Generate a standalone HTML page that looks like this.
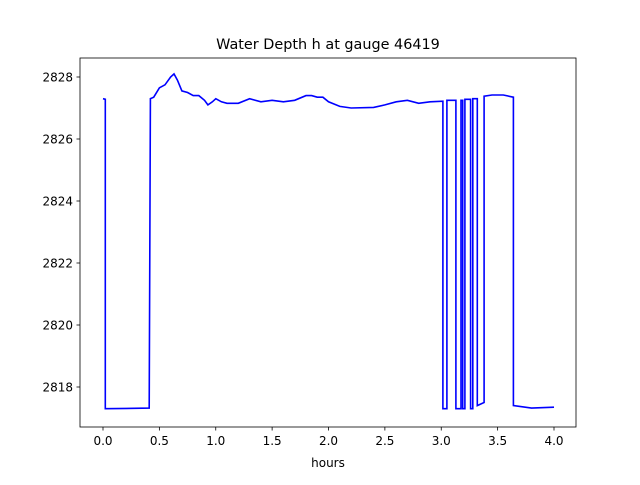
<!DOCTYPE html>
<html><head><meta charset="utf-8"><style>
body{margin:0;background:#fff;}
svg text{font-family:"DejaVu Sans","Liberation Sans",sans-serif;fill:#000;}
</style></head><body>
<svg id="chart" width="640" height="480">
<rect width="640" height="480" fill="#fff"/>
<text x="328" y="49" font-size="14.4" text-anchor="middle">Water Depth h at gauge 46419</text>
<g id="ticks"></g>
<path id="line" fill="none" stroke="#0000ff" stroke-width="1.6"/>
<rect x="80" y="58" width="496" height="369" fill="none" stroke="#000" stroke-width="0.8"/>
<text x="328" y="467" font-size="12" text-anchor="middle">hours</text>
</svg>
<script>
const hours=[0,0.02,0.02,0.41,0.42,0.45,0.5,0.55,0.6,0.63,0.66,0.7,0.75,0.8,0.85,0.9,0.93,0.97,1.0,1.05,1.1,1.2,1.3,1.4,1.5,1.6,1.7,1.8,1.85,1.9,1.95,2.0,2.1,2.2,2.4,2.5,2.6,2.7,2.8,2.9,3.015,3.015,3.05,3.05,3.13,3.13,3.175,3.175,3.19,3.19,3.21,3.21,3.26,3.26,3.28,3.28,3.32,3.32,3.38,3.38,3.45,3.55,3.64,3.64,3.8,4.0];
const depth=[2827.3,2827.28,2817.3,2817.32,2827.3,2827.35,2827.65,2827.75,2828.0,2828.1,2827.9,2827.55,2827.5,2827.4,2827.4,2827.25,2827.1,2827.2,2827.3,2827.2,2827.15,2827.15,2827.3,2827.2,2827.25,2827.2,2827.25,2827.4,2827.4,2827.35,2827.35,2827.2,2827.05,2827.0,2827.02,2827.1,2827.2,2827.25,2827.15,2827.2,2827.22,2817.3,2817.3,2827.25,2827.25,2817.3,2817.3,2827.25,2827.25,2817.3,2817.3,2827.28,2827.28,2817.3,2817.3,2827.3,2827.3,2817.4,2817.5,2827.38,2827.42,2827.42,2827.35,2817.4,2817.32,2817.35];
const xTicks=[0,0.5,1,1.5,2,2.5,3,3.5,4];
const yTicks=[2818,2820,2822,2824,2826,2828];
const xs=v=>103+(v-0)*112.75;
const ys=v=>387-(v-2818)*31;
const ns="http://www.w3.org/2000/svg";
const g=document.getElementById('ticks');
xTicks.forEach(t=>{
 const l=document.createElementNS(ns,'line');
 l.setAttribute('x1',xs(t));l.setAttribute('x2',xs(t));l.setAttribute('y1',427);l.setAttribute('y2',430.5);l.setAttribute('stroke','#000');l.setAttribute('stroke-width','0.8');
 
 
 g.appendChild(l);
 const tx=document.createElementNS(ns,'text');
 tx.setAttribute('x',xs(t));tx.setAttribute('y',445);tx.setAttribute('font-size','12');tx.setAttribute('text-anchor','middle');
 tx.textContent=t.toFixed(1);
 
 
 g.appendChild(tx);
});
yTicks.forEach(t=>{
 const l=document.createElementNS(ns,'line');
 l.setAttribute('x1',76.5);l.setAttribute('x2',80);l.setAttribute('y1',ys(t));l.setAttribute('y2',ys(t));l.setAttribute('stroke','#000');l.setAttribute('stroke-width','0.8');
 
 
 g.appendChild(l);
 const tx=document.createElementNS(ns,'text');
 tx.setAttribute('x',73);tx.setAttribute('y',ys(t)+4.5);tx.setAttribute('font-size','12');tx.setAttribute('text-anchor','end');
 tx.textContent=t;
 
 
 g.appendChild(tx);
});
document.getElementById('line').setAttribute('d',hours.map((h,i)=>(i?'L':'M')+xs(h).toFixed(1)+','+ys(depth[i]).toFixed(1)).join(''));
</script>
</body></html>
